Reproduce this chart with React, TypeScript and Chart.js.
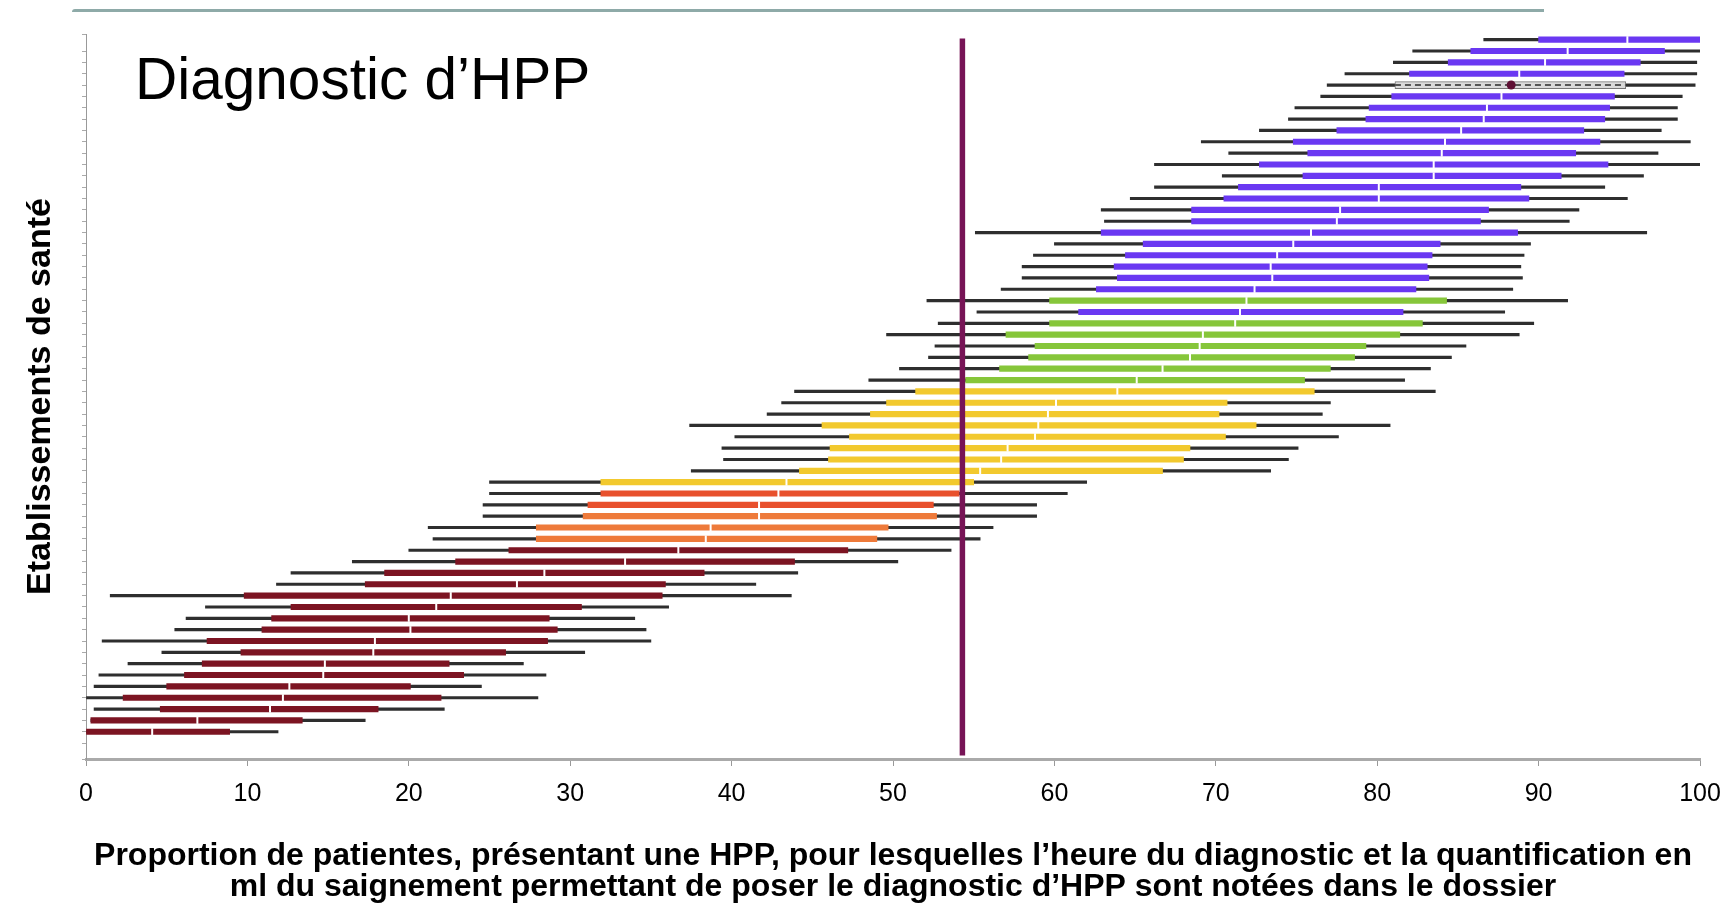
import React, { useEffect, useRef } from 'react';
import { Chart, registerables } from 'chart.js';

Chart.register(...registerables);

// ---- data (rows from top to bottom) ----
const rowIds = [
  1, 2, 3, 4, 5, 6, 7, 8, 9, 10, 11, 12, 13, 14, 15, 16, 17, 18, 19, 20,
  21, 22, 23, 24, 25, 26, 27, 28, 29, 30, 31, 32, 33, 34, 35, 36, 37, 38, 39, 40,
  41, 42, 43, 44, 45, 46, 47, 48, 49, 50, 51, 52, 53, 54, 55, 56, 57, 58, 59, 60,
  61, 62,
];

const ciLow = [
  86.6, 82.2, 81.0, 78.0, 76.9, 76.5, 74.9, 74.5, 72.7, 69.1,
  70.8, 66.2, 70.4, 66.2, 64.7, 62.9, 63.1, 55.1, 60.0, 58.7,
  58.0, 58.0, 56.7, 52.1, 55.2, 52.8, 49.6, 52.6, 52.2, 50.4,
  48.5, 43.9, 43.1, 42.2, 37.4, 40.2, 39.4, 39.5, 37.5, 25.0,
  25.0, 24.6, 24.6, 21.2, 21.5, 20.0, 16.5, 12.7, 11.8, 1.5,
  7.4, 6.2, 5.5, 1.0, 4.7, 2.6, 0.8, 0.5, 0.0, 0.5,
  0.3, 0.0,
];

const barLow = [
  90.0, 85.8, 84.4, 82.0, 81.1, 80.9, 79.5, 79.3, 77.5, 74.8,
  75.7, 72.7, 75.4, 71.4, 70.5, 68.5, 68.5, 62.9, 65.5, 64.4,
  63.7, 63.9, 62.6, 59.7, 61.5, 59.7, 57.0, 58.8, 58.4, 56.6,
  54.5, 51.4, 49.6, 48.6, 45.6, 47.3, 46.1, 46.0, 44.2, 31.9,
  31.9, 31.1, 30.8, 27.9, 27.9, 26.2, 22.9, 18.5, 17.3, 9.8,
  12.7, 11.5, 10.9, 7.5, 9.6, 7.2, 6.1, 5.0, 2.3, 4.6,
  0.3, 0.0,
];

const estimate = [
  95.5, 91.8, 90.4, 88.8, 88.3, 87.7, 86.8, 86.6, 85.2, 84.2,
  84.0, 83.5, 83.5, 80.1, 80.1, 77.7, 77.5, 75.9, 74.8, 73.8,
  73.4, 73.5, 72.4, 71.9, 71.5, 71.2, 69.2, 69.0, 68.4, 66.7,
  65.1, 63.9, 60.1, 59.6, 59.0, 58.8, 57.1, 56.7, 55.4, 43.4,
  42.9, 41.7, 41.7, 38.7, 38.4, 36.7, 33.4, 28.4, 26.7, 22.6,
  21.7, 20.0, 20.1, 17.9, 17.8, 14.8, 14.7, 12.6, 12.2, 11.4,
  6.9, 4.1,
];

const barHigh = [
  100.0, 97.8, 96.3, 95.3, 95.4, 94.7, 94.4, 94.1, 92.8, 93.8,
  92.3, 94.3, 91.4, 88.9, 89.4, 86.9, 86.4, 88.7, 83.9, 83.4,
  83.1, 83.2, 82.4, 84.3, 81.6, 82.8, 81.4, 79.3, 78.6, 77.1,
  75.5, 76.1, 70.7, 70.2, 72.5, 70.6, 68.4, 68.0, 66.7, 55.0,
  54.1, 52.5, 52.7, 49.7, 49.0, 47.2, 43.9, 38.3, 35.9, 35.7,
  30.7, 28.7, 29.2, 28.6, 26.0, 22.5, 23.4, 20.1, 22.0, 18.1,
  13.4, 8.9,
];

const ciHigh = [
  100.0, 100.0, 99.8, 99.8, 99.7, 98.9, 98.6, 98.6, 97.6, 99.4,
  97.4, 100.0, 96.5, 94.1, 95.5, 92.5, 91.9, 96.7, 89.5, 89.1,
  88.9, 89.0, 88.4, 91.8, 87.9, 89.7, 88.8, 85.5, 84.6, 83.3,
  81.7, 83.6, 77.1, 76.6, 80.8, 77.6, 75.1, 74.5, 73.4, 62.0,
  60.8, 58.9, 58.9, 56.2, 55.4, 53.6, 50.3, 44.1, 41.5, 43.7,
  36.1, 34.0, 34.7, 35.0, 30.9, 27.1, 28.5, 24.5, 28.0, 22.2,
  17.3, 11.9,
];

const colourGroup = [
  'violet', 'violet', 'violet', 'violet', 'violet', 'violet', 'violet', 'violet', 'violet', 'violet',
  'violet', 'violet', 'violet', 'violet', 'violet', 'violet', 'violet', 'violet', 'violet', 'violet',
  'violet', 'violet', 'violet', 'vert', 'violet', 'vert', 'vert', 'vert', 'vert', 'vert',
  'vert', 'jaune', 'jaune', 'jaune', 'jaune', 'jaune', 'jaune', 'jaune', 'jaune', 'jaune',
  'rouge', 'rouge', 'orange', 'orange', 'orange', 'bordeaux', 'bordeaux', 'bordeaux', 'bordeaux', 'bordeaux',
  'bordeaux', 'bordeaux', 'bordeaux', 'bordeaux', 'bordeaux', 'bordeaux', 'bordeaux', 'bordeaux', 'bordeaux', 'bordeaux',
  'bordeaux', 'bordeaux',
];

const highlightedRow = 5;
const referenceValue = 54.3;
const xTickValues = [0, 10, 20, 30, 40, 50, 60, 70, 80, 90, 100];

const chartTitle = 'Diagnostic d\u2019HPP';
const yTitle = 'Etablissements de sant\u00e9';
const xTitle = [
  'Proportion de patientes, pr\u00e9sentant une HPP, pour lesquelles l\u2019heure du diagnostic et la quantification en',
  'ml du saignement permettant de poser le diagnostic d\u2019HPP sont not\u00e9es dans le dossier',
];

// ---- styles ----
const groupColours: Record<string, string> = {
  violet: '#6A38F2',
  vert: '#86C63A',
  jaune: '#F2C92E',
  rouge: '#E8502C',
  orange: '#EE7A3A',
  bordeaux: '#7C1422',
};

const FONT = "'Liberation Sans', Arial, sans-serif";

export default function App() {
  const canvasRef = useRef<HTMLCanvasElement | null>(null);

  useEffect(() => {
    if (!canvasRef.current) return;
    Chart.defaults.font.family = FONT;
    const hiIndex = rowIds.indexOf(highlightedRow);
    const normal = rowIds.map((_, i) => i).filter((i) => i !== hiIndex);
    const firstRow = rowIds[0];
    const lastRow = rowIds[rowIds.length - 1];

    const chart = new Chart(canvasRef.current, {
      type: 'bar',
      data: {
        datasets: [
          {
            type: 'line',
            label: 'Référence',
            data: [
              { x: referenceValue, y: firstRow - 0.1 },
              { x: referenceValue, y: lastRow + 2.1 },
            ],
            borderColor: '#771456',
            borderWidth: 5.5,
            pointRadius: 0,
            order: 0,
          } as any,
          {
            type: 'line',
            label: 'Établissement',
            data: [{ x: estimate[hiIndex], y: rowIds[hiIndex] }],
            showLine: false,
            pointStyle: 'circle',
            pointRadius: 4.5,
            pointBackgroundColor: '#5E1034',
            pointBorderColor: '#5E1034',
            pointBorderWidth: 0,
            order: 1,
          } as any,
          {
            type: 'line',
            label: 'Estimation',
            data: normal.map((i) => ({ x: estimate[i], y: rowIds[i] })),
            showLine: false,
            pointStyle: 'line',
            pointRotation: 90,
            pointRadius: 3.5,
            pointBorderColor: '#ffffff',
            pointBorderWidth: 2,
            order: 2,
          } as any,
          {
            type: 'line',
            label: 'Boîte',
            data: [
              { x: barLow[hiIndex], y: rowIds[hiIndex] },
              { x: barHigh[hiIndex], y: rowIds[hiIndex] },
            ],
            borderColor: '#555555',
            borderWidth: 2,
            borderDash: [6, 4],
            pointRadius: 0,
            order: 3,
          } as any,
          {
            type: 'bar',
            label: 'Intervalle',
            grouped: false,
            data: normal.map((i) => ({ x: [barLow[i], barHigh[i]], y: rowIds[i] })),
            backgroundColor: normal.map((i) => groupColours[colourGroup[i]]),
            barThickness: 5.5,
            order: 4,
          } as any,
          {
            type: 'bar',
            label: 'Intervalle établissement',
            grouped: false,
            data: [{ x: [barLow[hiIndex], barHigh[hiIndex]], y: rowIds[hiIndex] }],
            backgroundColor: '#dadada',
            borderColor: '#777777',
            borderWidth: 1,
            borderSkipped: false,
            barThickness: 7,
            order: 4,
          } as any,
          {
            type: 'bar',
            label: 'IC',
            grouped: false,
            data: rowIds.map((r, i) => ({ x: [ciLow[i], ciHigh[i]], y: r })),
            backgroundColor: '#2e2e2e',
            barThickness: 2.5,
            order: 5,
          } as any,
        ],
      },
      options: {
        indexAxis: 'y',
        animation: false,
        responsive: false,
        maintainAspectRatio: false,
        layout: { padding: { left: 0, right: 35, top: 34, bottom: 0 } },
        plugins: { legend: { display: false }, tooltip: { enabled: false }, title: { display: false } },
        scales: {
          x: {
            type: 'linear',
            position: 'bottom',
            min: 0,
            max: 100,
            offset: false,
            afterBuildTicks: (scale: any) => {
              scale.ticks = xTickValues.map((v) => ({ value: v }));
            },
            ticks: { color: '#000', font: { size: 25 }, padding: 13 },
            grid: { drawOnChartArea: false, drawTicks: true, tickLength: 7, color: '#999', lineWidth: 1 },
            border: { display: true, color: '#aaaaaa', width: 3 },
            title: {
              display: true,
              text: xTitle,
              color: '#000',
              font: { size: 32, weight: 'bold', lineHeight: 0.97 },
              padding: { top: 0, bottom: 4 },
            },
            afterFit: (scale: any) => {
              scale.height = 148;
            },
          } as any,
          y: {
            type: 'linear',
            position: 'left',
            reverse: true,
            offset: false,
            min: 0.5,
            max: 64.4,
            ticks: { display: false, stepSize: 1 },
            grid: { drawOnChartArea: false, drawTicks: true, tickLength: 4, color: '#aaaaaa', lineWidth: 1, offset: false },
            border: { display: true, color: '#999999', width: 1, dash: [2, 2] },
            title: {
              display: true,
              text: yTitle,
              color: '#000',
              font: { size: 34, weight: 'bold', lineHeight: 1.0 },
              padding: { top: 24, bottom: 0 },
            },
            afterFit: (scale: any) => {
              scale.width = 86;
            },
          } as any,
        },
      },
    });
    return () => chart.destroy();
  }, []);

  return (
    <div style={{ position: 'fixed', left: 0, top: 0, width: 1735, height: 907, background: '#fff' }}>
      <div
        style={{
          position: 'absolute',
          left: 72,
          top: 9,
          width: 1472,
          height: 3,
          background: '#8eaaa8',
          borderTopLeftRadius: 6,
        }}
      />
      <canvas ref={canvasRef} width={1735} height={907} style={{ position: 'absolute', left: 0, top: 0, width: 1735, height: 907 }} />
      <div
        style={{
          position: 'absolute',
          left: 135,
          top: 50,
          fontFamily: FONT,
          fontSize: 58.5,
          lineHeight: '58px',
          color: '#000',
          whiteSpace: 'nowrap',
        }}
      >
        {chartTitle}
      </div>
    </div>
  );
}
